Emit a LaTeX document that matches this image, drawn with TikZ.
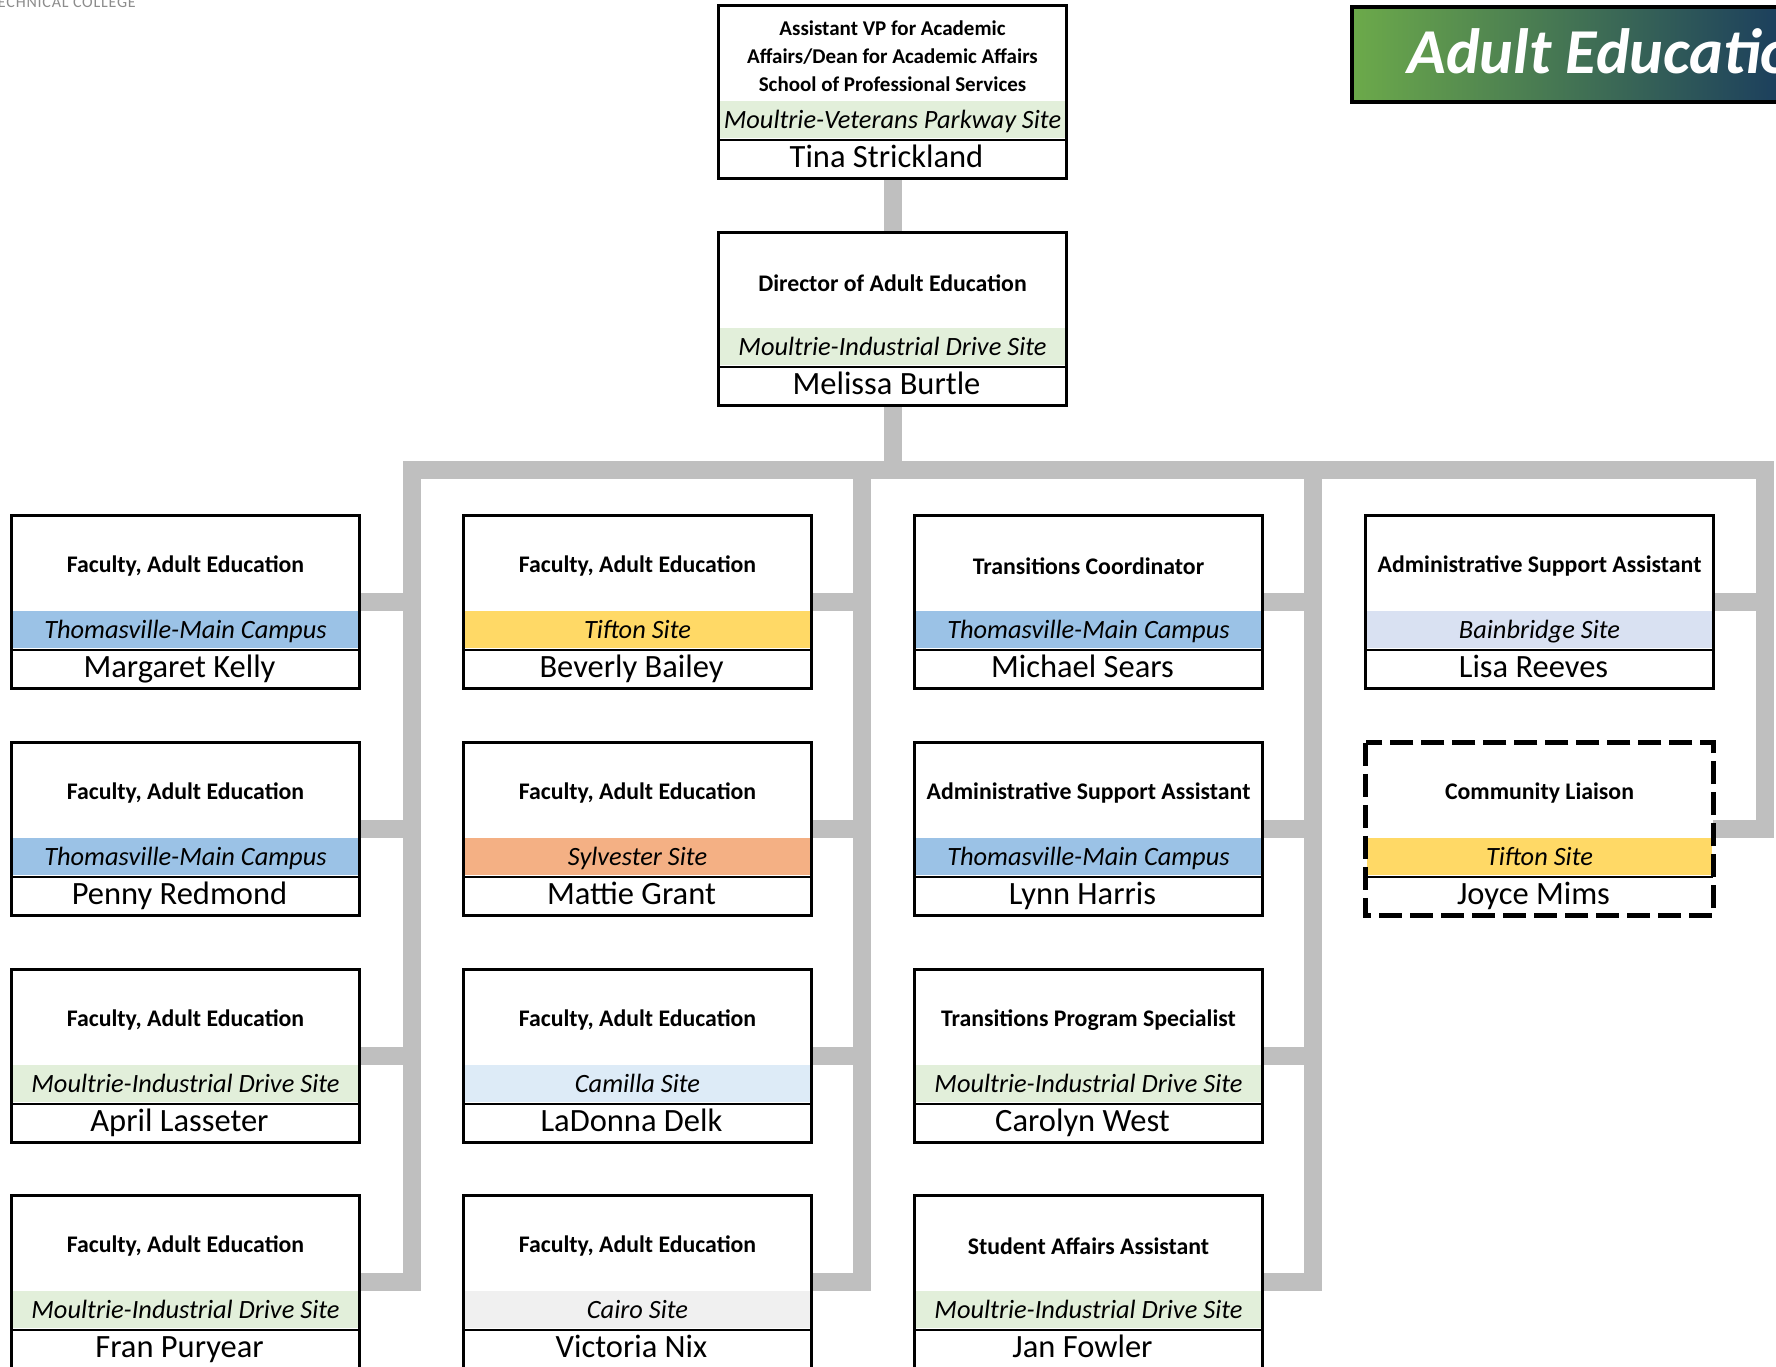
\documentclass[tikz,border=0pt]{standalone}
\usepackage{fontspec}
\setmainfont{Carlito}
\usetikzlibrary{backgrounds}

\definecolor{siteGreen}{RGB}{226,239,218}
\definecolor{siteBlue}{RGB}{155,194,230}
\definecolor{siteYellow}{RGB}{255,217,102}
\definecolor{siteOrange}{RGB}{244,176,132}
\definecolor{siteLavender}{RGB}{217,225,242}
\definecolor{siteIce}{RGB}{221,235,247}
\definecolor{siteGray}{RGB}{240,240,240}
\definecolor{connGray}{RGB}{191,191,191}
\definecolor{bannerGreen}{RGB}{108,170,74}
\definecolor{bannerNavy}{RGB}{24,58,94}
\definecolor{logoGray}{RGB}{140,140,140}

\tikzset{
  posbox/.style={fill=white, minimum width=347pt, minimum height=172pt, inner sep=0pt},
  boxline/.style={draw=black, line width=3pt},
  vacant/.style={draw=black, line width=5pt, dash pattern=on 23pt off 8pt},
  sepline/.style={draw=black, line width=2.5pt},
  titletext/.style={font=\fontsize{23.8}{28}\selectfont\bfseries, text width=344pt, align=flush center, inner sep=0pt},
  sitetext/.style={font=\fontsize{26.4}{30}\selectfont\itshape, anchor=base, inner sep=0pt},
  nametext/.style={font=\fontsize{32.5}{36}\selectfont, anchor=base, inner sep=0pt},
  conn/.style={draw=connGray, line width=18pt},
}

% box with title, site band and person
\newcommand{\posbox}[7][boxline]{%
  \node[posbox] (#2) at (#3) {};
  \fill[#5] ([xshift=1.5pt,yshift=-95pt]#2.north west) rectangle ([xshift=-1.5pt,yshift=-132pt]#2.north east);
  \draw[sepline] ([yshift=-134pt]#2.north west) -- ([yshift=-134pt]#2.north east);
  \node[titletext] (#2-title) at ([yshift=-50pt]#2.north) {#4};
  \node[sitetext] (#2-site) at ([yshift=-123pt]#2.north) {#6};
  \node[nametext] (#2-name) at ([xshift=-6pt,yshift=-162pt]#2.north) {#7};
  \draw[#1] (#2.north west) rectangle (#2.south east);
}

\begin{document}
\begin{tikzpicture}[x=1pt, y=-1pt]
  \useasboundingbox (0,0) rectangle (1776,1366);

  % header
  \node[anchor=base east, text=logoGray, font=\fontsize{16}{18}\selectfont\addfontfeature{LetterSpace=5}, inner sep=0pt] (college) at (136,7) {TECHNICAL COLLEGE};
  \draw[left color=bannerGreen, right color=bannerNavy, draw=black, line width=4pt] (1352,7) rectangle (1800,102);
  \node[anchor=base west, text=white, font=\fontsize{64}{72}\selectfont\bfseries\itshape, inner sep=0pt] (banner) at (1407,73) {Adult Education};

  % leadership
  \posbox{avp}{892.5,92}{\fontsize{21}{28}\selectfont Assistant VP for Academic\\Affairs/Dean for Academic Affairs\\School of Professional Services\par\vspace{4.5pt}}{siteGreen}{Moultrie-Veterans Parkway Site}{Tina Strickland}
  \posbox{dir}{892.5,319}{Director of Adult Education}{siteGreen}{Moultrie-Industrial Drive Site}{Melissa Burtle}

  % first column
  \posbox{kelly}{185.5,602}{Faculty, Adult Education}{siteBlue}{Thomasville-Main Campus}{Margaret Kelly}
  \posbox{redmond}{185.5,829}{Faculty, Adult Education}{siteBlue}{Thomasville-Main Campus}{Penny Redmond}
  \posbox{lasseter}{185.5,1056}{Faculty, Adult Education}{siteGreen}{Moultrie-Industrial Drive Site}{April Lasseter}
  \posbox{puryear}{185.5,1282}{Faculty, Adult Education}{siteGreen}{Moultrie-Industrial Drive Site}{Fran Puryear}

  % second column
  \posbox{bailey}{637.5,602}{Faculty, Adult Education}{siteYellow}{Tifton Site}{Beverly Bailey}
  \posbox{grant}{637.5,829}{Faculty, Adult Education}{siteOrange}{Sylvester Site}{Mattie Grant}
  \posbox{delk}{637.5,1056}{Faculty, Adult Education}{siteIce}{Camilla Site}{LaDonna Delk}
  \posbox{nix}{637.5,1282}{Faculty, Adult Education}{siteGray}{Cairo Site}{Victoria Nix}

  % third column
  \posbox{sears}{1088.5,602}{Transitions Coordinator}{siteBlue}{Thomasville-Main Campus}{Michael Sears}
  \posbox{harris}{1088.5,829}{Administrative Support Assistant}{siteBlue}{Thomasville-Main Campus}{Lynn Harris}
  \posbox{west}{1088.5,1056}{Transitions Program Specialist}{siteGreen}{Moultrie-Industrial Drive Site}{Carolyn West}
  \posbox{fowler}{1088.5,1282}{Student Affairs Assistant}{siteGreen}{Moultrie-Industrial Drive Site}{Jan Fowler}

  % fourth column
  \posbox{reeves}{1539.5,602}{Administrative Support Assistant}{siteLavender}{Bainbridge Site}{Lisa Reeves}
  \posbox[vacant]{mims}{1539.5,829}{Community Liaison}{siteYellow}{Tifton Site}{Joyce Mims}

  % connectors
  \coordinate (bar1) at (412,470);
  \coordinate (bar2) at (862,470);
  \coordinate (bar3) at (1313,470);
  \coordinate (bar4) at (1765,470);
  \begin{scope}[on background layer]
    \draw[conn] (avp.south) -- (dir.north);
    \draw[conn] (dir.south) -- (dir.south |- bar1);
    \draw[conn] (puryear.east) -| (bar1) -- (bar4) |- (mims.east);
    \draw[conn] (bar2) |- (nix.east);
    \draw[conn] (bar3) |- (fowler.east);
    \foreach \n/\b in {kelly/bar1, redmond/bar1, lasseter/bar1, bailey/bar2, grant/bar2, delk/bar2, sears/bar3, harris/bar3, west/bar3, reeves/bar4}
      \draw[conn] (\n.east) -- (\n.east -| \b);
  \end{scope}
\end{tikzpicture}
\end{document}
